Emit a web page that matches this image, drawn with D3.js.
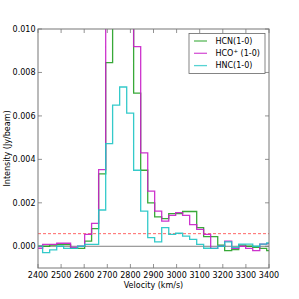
<!DOCTYPE html>
<html><head><meta charset="utf-8">
<script src="https://cdn.jsdelivr.net/npm/d3@7"></script>
<style>body{margin:0;background:#fff}svg{display:block}text{font-family:"DejaVu Sans",sans-serif}</style>
</head><body><svg id="c" width="299" height="299"></svg>
<script>
const velocity = [2405,2435,2466,2496,2526,2556,2587,2617,2647,2678,2708,2738,2769,2799,2829,2860,2890,2920,2951,2981,3011,3041,3072,3102,3132,3163,3193,3223,3254,3284,3314,3345,3375,3405];
const hcn = [0.0000,0.0000,0.00005,0.00008,0.00008,-0.0001,-0.0001,0.00024,0.00081,0.00333,0.00845,0.0125,0.0128,0.0112,0.00705,0.0035,0.0020,0.00135,0.00127,0.0015,0.0015,0.0016,0.0016,0.00086,0.00044,0.00044,0.00005,-0.0002,-0.00015,0.00005,0.0,-0.00005,-0.0001,-0.0002];
const hcop = [-0.00009,0.00009,0.00009,0.00014,0.00014,-0.00005,0.0,0.00055,0.00105,0.00353,0.0118,0.0142,0.0148,0.0122,0.00919,0.0043,0.00254,0.00162,0.00116,0.00142,0.00155,0.00142,0.0010,0.00078,0.00055,-0.0001,0.0,0.00024,-0.0001,0.0,-0.0001,-0.0002,0.0001,0.00012];
const hnc = [0.0,-0.00029,-0.00017,0.0,-0.0001,-0.0001,0.0,0.00009,0.00009,0.00167,0.00472,0.0065,0.00733,0.00613,0.0035,0.00162,0.0004,0.0002,0.00086,0.00055,0.0006,0.00047,0.00032,0.00009,-0.00009,-0.0001,0.0,0.0002,-0.00005,0.0001,0.0001,0.0,0.0001,0.00015];
const seriesNames = [["HCN","","(1-0)"],["HCO","+"," (1-0)"],["HNC","","(1-0)"]];
const seriesColors = ["#22a022","#c81ec8","#1ec4c4"];
const noiseLevel = 0.00058;
const xTicks = [2400,2500,2600,2700,2800,2900,3000,3100,3200,3300,3400];
const yTicks = [0.000,0.002,0.004,0.006,0.008,0.010];

const svg = d3.select("#c");
const L=38,R=269,T=29,B=268;
const x = d3.scaleLinear().domain([2400,3400]).range([L,R]);
const y = d3.scaleLinear().domain([-0.001,0.010]).range([B,T]);

svg.append("clipPath").attr("id","clip").append("rect").attr("x",L).attr("y",T).attr("width",R-L).attr("height",B-T);
const g = svg.append("g").attr("clip-path","url(#clip)");

g.append("line").attr("x1",L).attr("x2",R).attr("y1",y(0)).attr("y2",y(0)).attr("stroke","#808080").attr("stroke-width",1);
g.append("line").attr("x1",L).attr("x2",R).attr("y1",y(noiseLevel)).attr("y2",y(noiseLevel)).attr("stroke","#ff4040").attr("stroke-opacity",0.8).attr("stroke-width",1).attr("stroke-dasharray","3,2");

function stepPoints(vals){
  const pts=[];
  for(let i=0;i<velocity.length;i++){
    const left = i>0 ? (velocity[i-1]+velocity[i])/2 : velocity[i]-(velocity[1]-velocity[0])/2;
    const right = i<velocity.length-1 ? (velocity[i]+velocity[i+1])/2 : velocity[i]+(velocity[i]-velocity[i-1])/2;
    pts.push([left,vals[i]],[right,vals[i]]);
  }
  return pts;
}
const line = d3.line().x(d=>x(d[0])).y(d=>y(d[1]));
[hcn,hcop,hnc].forEach((s,i)=>{
  g.append("path").attr("d",line(stepPoints(s))).attr("fill","none").attr("stroke",seriesColors[i]).attr("stroke-width",1.3).attr("stroke-opacity",0.9);
});

svg.append("rect").attr("x",L).attr("y",T).attr("width",R-L).attr("height",B-T).attr("fill","none").attr("stroke","#777").attr("stroke-width",1);

const tk = svg.append("g").attr("stroke","#777").attr("stroke-width",0.8);
xTicks.forEach(v=>{
  tk.append("line").attr("x1",x(v)).attr("x2",x(v)).attr("y1",B).attr("y2",B-4);
  tk.append("line").attr("x1",x(v)).attr("x2",x(v)).attr("y1",T).attr("y2",T+4);
});
yTicks.forEach(v=>{
  tk.append("line").attr("x1",L).attr("x2",L+4).attr("y1",y(v)).attr("y2",y(v));
  tk.append("line").attr("x1",R).attr("x2",R-4).attr("y1",y(v)).attr("y2",y(v));
});
const fmtY = d3.format(".3f");
xTicks.forEach(v=>{
  svg.append("text").attr("x",x(v)).attr("y",B+9.5).attr("text-anchor","middle").attr("font-size",8).text(v);
});
yTicks.forEach(v=>{
  svg.append("text").attr("x",L-2.5).attr("y",y(v)).attr("dy","0.35em").attr("text-anchor","end").attr("font-size",8).text(fmtY(v));
});
svg.append("text").attr("x",(L+R)/2).attr("y",288).attr("text-anchor","middle").attr("font-size",8).text("Velocity (km/s)");
svg.append("text").attr("transform",`translate(10,${(T+B)/2}) rotate(-90)`).attr("text-anchor","middle").attr("font-size",8).text("Intensity (Jy/beam)");

const lg = svg.append("g");
lg.append("rect").attr("x",189).attr("y",33.5).attr("width",76).attr("height",40).attr("fill","#fff").attr("stroke","#666").attr("stroke-width",0.8);
seriesNames.forEach((n,i)=>{
  const yy = 41+i*12.3;
  lg.append("line").attr("x1",194).attr("x2",207).attr("y1",yy).attr("y2",yy).attr("stroke",seriesColors[i]).attr("stroke-width",1.3).attr("stroke-opacity",0.75);
  const t = lg.append("text").attr("x",215.5).attr("y",yy+2.8).attr("font-size",8);
  t.append("tspan").text(n[0]);
  if(n[1]) t.append("tspan").attr("font-size",5.5).attr("dy",-3.2).text(n[1]);
  t.append("tspan").attr("dy",n[1]?3.2:0).text(n[2]);
});
</script></body></html>
